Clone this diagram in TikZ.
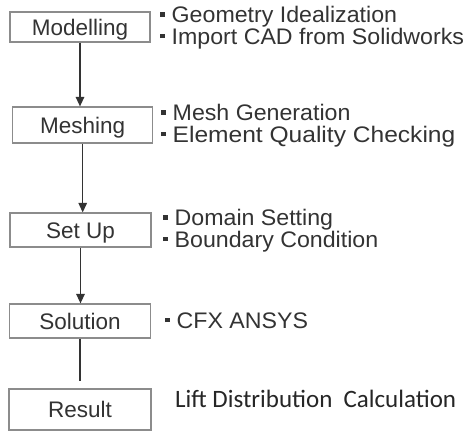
\documentclass[tikz,border=0pt]{standalone}
\usepackage{fontspec}
\setmainfont{Liberation Sans}
\newfontfamily\remarkfont[FakeStretch=1.03]{Liberation Sans}
\newfontfamily\calibrifont{Carlito}
\usetikzlibrary{arrows.meta}

\definecolor{inkgray}{HTML}{333333}
\definecolor{framegray}{HTML}{8C8C8C}

% small square bullet in front of each remark
\newcommand{\sqbul}{\raisebox{6pt}{\rule{4.5pt}{4.5pt}}\hspace{7pt}}

\begin{document}
\begin{tikzpicture}[x=1pt,y=-1pt,
  stepbox/.style={draw=framegray, line width=1.2pt, fill=white,
    inner sep=0pt, text=inkgray, text height=16pt, text depth=0pt,
    font=\fontsize{22.5}{27}\selectfont},
  remark/.style={anchor=base west, inner sep=0pt, text=inkgray,
    text height=15pt, text depth=3pt,
    font=\remarkfont\fontsize{22.5}{27}\selectfont},
  flow/.style={draw=inkgray, line width=1.3pt,
    -{Triangle[width=8.5pt,length=9.5pt]}},
  plainflow/.style={draw=inkgray, line width=1.3pt}
]
\useasboundingbox[fill=white] (0,0) rectangle (466,432);

% process steps
\node[stepbox, minimum width=140pt, minimum height=30pt] (mod)  at (80,27)    {Modelling};
\node[stepbox, minimum width=140pt, minimum height=36pt] (mesh) at (82.7,125) {Meshing};
\node[stepbox, minimum width=141pt, minimum height=34pt] (set)  at (80.5,230) {Set Up};
\node[stepbox, minimum width=141pt, minimum height=34pt] (sol)  at (80,321)   {Solution};
\node[stepbox, minimum width=142pt, minimum height=41pt] (res)  at (80,409.5) {Result};

% connectors
\draw[flow] (mod.south)  -- (mod.south  |- mesh.north);
\draw[flow] (mesh.south) -- (mesh.south |- set.north);
\draw[flow] (set.south)  -- (set.south  |- sol.north);
\draw[plainflow, shorten >=7pt] (sol.south) -- (sol.south |- res.north);

% remarks next to each step
\node[remark] (m1) at (160,22.5)  {\sqbul Geometry Idealization};
\node[remark] (m2) at (160,44)    {\sqbul Import CAD from Solidworks};
\node[remark] (e1) at (161,120.5) {\sqbul Mesh Generation};
\node[remark] (e2) at (161,142)   {\sqbul \scalebox{1.06}[1]{Element Quality Checking}};
\node[remark] (s1) at (163,225.5) {\sqbul Domain Setting};
\node[remark] (s2) at (163,247)   {\sqbul Boundary Condition};
\node[remark] (c1) at (165,328)   {\sqbul CFX ANSYS};
\node[anchor=base west, inner sep=0pt, text=black!85,
  font=\calibrifont\fontsize{25}{30}\selectfont] (l1) at (175,407.5)
  {Lift Distribution\hspace{0.45em}Calculation};
\end{tikzpicture}
\end{document}
